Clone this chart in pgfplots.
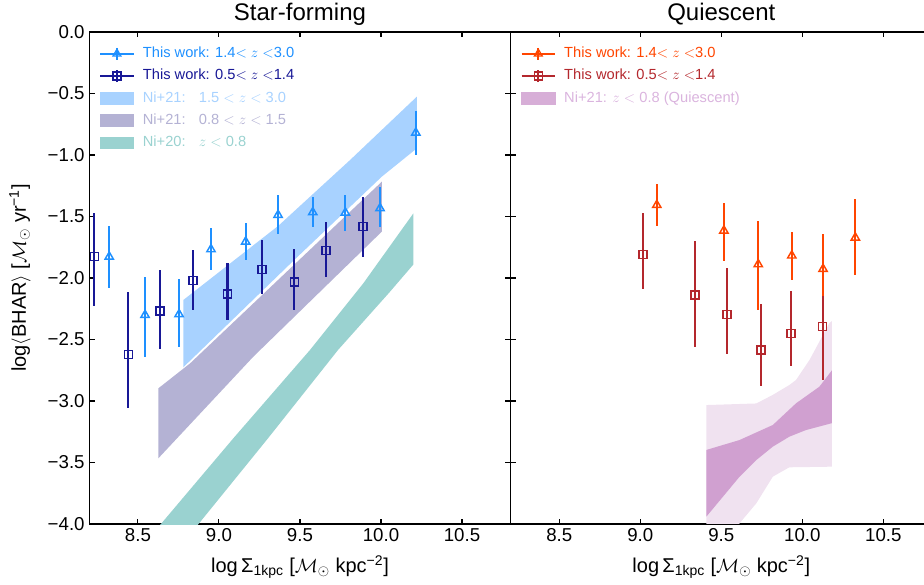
\documentclass[border=0pt]{standalone}
\usepackage{pgfplots}
\pgfplotsset{compat=1.18}
\usepackage{fontspec}
\setmainfont{Liberation Sans}

\definecolor{sfhi}{RGB}{30,144,255}
\definecolor{sflo}{RGB}{24,24,150}
\definecolor{qhi}{RGB}{255,69,0}
\definecolor{qlo}{RGB}{180,40,45}
\definecolor{bandA}{RGB}{168,210,255}
\definecolor{bandB}{RGB}{180,178,212}
\definecolor{bandC}{RGB}{154,210,208}
\definecolor{qdark}{RGB}{208,160,208}
\definecolor{qlight}{RGB}{240,226,240}
\definecolor{qtext}{RGB}{218,180,222}

\pgfplotsset{
  panel/.style={
    scale only axis, width=316pt, height=369pt,
    xmin=8.2, xmax=10.8, ymin=-4, ymax=0,
    xtick={8.5,9,9.5,10,10.5}, xticklabels={8.5,9.0,9.5,10.0,10.5},
    ytick={-4,-3.5,-3,-2.5,-2,-1.5,-1,-0.5,0},
    tick align=inside, xtick pos=both, ytick pos=both,
    xticklabel pos=left, yticklabel pos=left,
    major tick length=4pt,
    every tick/.style={black, line width=0.8pt},
    axis line style={line width=0.9pt},
    tick label style={font=\fontsize{14}{16}\selectfont},
    label style={font=\fontsize{15}{17}\selectfont},
    title style={font=\fontsize{18}{21}\selectfont, at={(axis description cs:0.5,1.0366)}, anchor=center, yshift=-6pt},
    xlabel={log\,Σ\textsubscript{1kpc} [$\mathcal{M}_{\odot}$ kpc\textsuperscript{−2}]},
    xlabel style={at={(axis description cs:0.5,-0.0874)}, anchor=center},
    legend style={draw=none, fill=none, inner sep=0pt,
      at={(axis description cs:0,1)}, anchor=north west, xshift=7.3pt, yshift=-7.8pt,
      font=\fontsize{11}{12.5}\selectfont, column sep=4.2pt,
      nodes={inner xsep=2pt, inner ysep=3pt, text height=8.2pt, text depth=2.5pt},
      cells={anchor=west}},
  },
  ebar/.style={only marks, forget plot, mark options={line width=1.1pt, solid, fill=none},
    error bars/y dir=both, error bars/y explicit, error bars/error mark=none,
    error bars/error bar style={line width=1.7pt}},
}

\begin{document}
\begin{tikzpicture}
\useasboundingbox (0,0) rectangle (693pt,438.75pt);
\clip (0,0) rectangle (693pt,438.75pt);

% ---------------- Star-forming ----------------
\begin{axis}[panel, at={(66.975pt,45.75pt)}, anchor=south west,
  title={Star-forming},
  yticklabels={−4.0,−3.5,−3.0,−2.5,−2.0,−1.5,−1.0,−0.5,0.0},
  ylabel={log$\langle$BHAR$\rangle$ [$\mathcal{M}_{\odot}$ yr\textsuperscript{−1}]},
  ylabel style={at={(axis description cs:-0.1646,0.5)}, anchor=center},
]
\addlegendimage{legend image code/.code={
  \draw[sfhi, line width=1.5pt] (0pt,0pt) -- (25pt,0pt);
  \draw[sfhi, line width=1.5pt] (12.5pt,-4.5pt) -- (12.5pt,4.5pt);
  \draw[sfhi, line width=1pt, mark=triangle, mark size=3.4pt] plot coordinates {(12.5pt,0pt)};}}
\addlegendentry{\textcolor{sfhi}{This work: 1.4$<$ $z$ $<$3.0}}
\addlegendimage{legend image code/.code={
  \draw[sflo, line width=1.5pt] (0pt,0pt) -- (25pt,0pt);
  \draw[sflo, line width=1.5pt] (12.5pt,-4.5pt) -- (12.5pt,4.5pt);
  \draw[sflo, line width=1pt, mark=square, mark size=3pt] plot coordinates {(12.5pt,0pt)};}}
\addlegendentry{\textcolor{sflo}{This work: 0.5$<$ $z$ $<$1.4}}
\addlegendimage{legend image code/.code={\fill[bandA] (0pt,-4.4pt) rectangle (25pt,4.4pt);}}
\addlegendentry{\textcolor{bandA}{Ni+21:\hspace{0.9em}1.5 $<$ $z$ $<$ 3.0}}
\addlegendimage{legend image code/.code={\fill[bandB] (0pt,-4.4pt) rectangle (25pt,4.4pt);}}
\addlegendentry{\textcolor{bandB}{Ni+21:\hspace{0.9em}0.8 $<$ $z$ $<$ 1.5}}
\addlegendimage{legend image code/.code={\fill[bandC] (0pt,-4.4pt) rectangle (25pt,4.4pt);}}
\addlegendentry{\textcolor{bandC}{Ni+20:\hspace{0.9em}$z$ $<$ 0.8}}

% bands
\addplot[fill=bandA, draw=none, forget plot] coordinates {
 (8.780,-2.179) (9.367,-1.575) (9.809,-1.041) (10.221,-0.526)
 (10.221,-0.946) (10.005,-1.176) (9.464,-1.854) (8.780,-2.726)};
\addplot[fill=bandB, draw=none, forget plot] coordinates {
 (8.626,-2.897) (8.822,-2.694) (9.464,-1.892) (10.005,-1.217)
 (10.005,-1.623) (9.212,-2.640) (8.626,-3.466)};
\addplot[fill=bandC, draw=none, forget plot] coordinates {
 (8.550,-4.140) (8.647,-3.992) (9.089,-3.303) (9.562,-2.585) (9.891,-2.043) (10.200,-1.474)
 (10.200,-1.890) (10.050,-2.120) (9.735,-2.585) (9.303,-3.303) (8.879,-3.992) (8.780,-4.140)};

% this work, 1.4<z<3.0
\addplot[sfhi, mark=triangle, mark size=3.6pt, ebar] coordinates {
 (8.323,-1.827) += (0,0.250) -= (0,0.252)
 (8.544,-2.301) += (0,0.312) -= (0,0.339)
 (8.754,-2.295) += (0,0.290) -= (0,0.263)
 (8.951,-1.767) += (0,0.176) -= (0,0.168)
 (9.165,-1.705) += (0,0.150) -= (0,0.149)
 (9.365,-1.488) += (0,0.163) -= (0,0.154)
 (9.579,-1.466) += (0,0.122) -= (0,0.117)
 (9.780,-1.469) += (0,0.144) -= (0,0.146)
 (9.994,-1.433) += (0,0.170) -= (0,0.150)
 (10.215,-0.819) += (0,0.179) -= (0,0.181)
};
% this work, 0.5<z<1.4
\addplot[sflo, mark=square, mark size=3pt, ebar] coordinates {
 (8.231,-1.827) += (0,0.356) -= (0,0.398)
 (8.441,-2.620) += (0,0.504) -= (0,0.440)
 (8.636,-2.268) += (0,0.333) -= (0,0.312)
 (8.840,-2.022) += (0,0.250) -= (0,0.238)
 (9.052,-2.130) += (0,0.254) -= (0,0.211)
 (9.266,-1.929) += (0,0.238) -= (0,0.201)
 (9.465,-2.033) += (0,0.271) -= (0,0.225)
 (9.661,-1.778) += (0,0.231) -= (0,0.211)
 (9.888,-1.583) += (0,0.244) -= (0,0.249)
};
\end{axis}

% ---------------- Quiescent ----------------
\begin{axis}[panel, at={(382.975pt,45.75pt)}, anchor=south west,
  title={Quiescent},
  yticklabels={},
]
\addlegendimage{legend image code/.code={
  \draw[qhi, line width=1.5pt] (0pt,0pt) -- (25pt,0pt);
  \draw[qhi, line width=1.5pt] (12.5pt,-4.5pt) -- (12.5pt,4.5pt);
  \draw[qhi, line width=1pt, mark=triangle, mark size=3.4pt] plot coordinates {(12.5pt,0pt)};}}
\addlegendentry{\textcolor{qhi}{This work: 1.4$<$ $z$ $<$3.0}}
\addlegendimage{legend image code/.code={
  \draw[qlo, line width=1.5pt] (0pt,0pt) -- (25pt,0pt);
  \draw[qlo, line width=1.5pt] (12.5pt,-4.5pt) -- (12.5pt,4.5pt);
  \draw[qlo, line width=1pt, mark=square, mark size=3pt] plot coordinates {(12.5pt,0pt)};}}
\addlegendentry{\textcolor{qlo}{This work: 0.5$<$ $z$ $<$1.4}}
\addlegendimage{legend image code/.code={\fill[qdark!85!white] (0pt,-4.4pt) rectangle (25pt,4.4pt);}}
\addlegendentry{\textcolor{qtext}{Ni+21: $z$ $<$ 0.8 (Quiescent)}}

\addplot[fill=qlight, draw=none, forget plot] coordinates {
 (9.408,-3.033) (9.716,-3.020) (9.818,-2.950) (9.920,-2.870) (9.961,-2.829)
 (10.044,-2.667) (10.167,-2.366) (10.183,-2.350)
 (10.183,-3.534) (9.920,-3.539) (9.818,-3.615) (9.716,-3.832) (9.613,-3.994)
 (9.500,-4.250) (9.408,-4.500)};
\addplot[fill=qdark, draw=none, forget plot] coordinates {
 (9.408,-3.398) (9.613,-3.317) (9.818,-3.195) (9.961,-3.019) (10.105,-2.884) (10.183,-2.750)
 (10.183,-3.180) (10.023,-3.236) (9.920,-3.290) (9.818,-3.371) (9.716,-3.480)
 (9.613,-3.615) (9.510,-3.778) (9.408,-3.940)};

\addplot[qhi, mark=triangle, mark size=3.6pt, ebar] coordinates {
 (9.102,-1.407) += (0,0.171) -= (0,0.168)
 (9.516,-1.615) += (0,0.222) -= (0,0.244)
 (9.728,-1.889) += (0,0.355) -= (0,0.371)
 (9.935,-1.818) += (0,0.195) -= (0,0.198)
 (10.128,-1.927) += (0,0.285) -= (0,0.265)
 (10.327,-1.672) += (0,0.312) -= (0,0.304)
};
\addplot[qlo, mark=square, mark size=3pt, ebar] coordinates {
 (9.017,-1.808) += (0,0.334) -= (0,0.284)
 (9.337,-2.138) += (0,0.439) -= (0,0.426)
 (9.534,-2.295) += (0,0.374) -= (0,0.326)
 (9.744,-2.585) += (0,0.374) -= (0,0.293)
 (9.931,-2.450) += (0,0.347) -= (0,0.263)
 (10.126,-2.396) += (0,0.250) -= (0,0.433)
};
\end{axis}
\end{tikzpicture}
\end{document}
